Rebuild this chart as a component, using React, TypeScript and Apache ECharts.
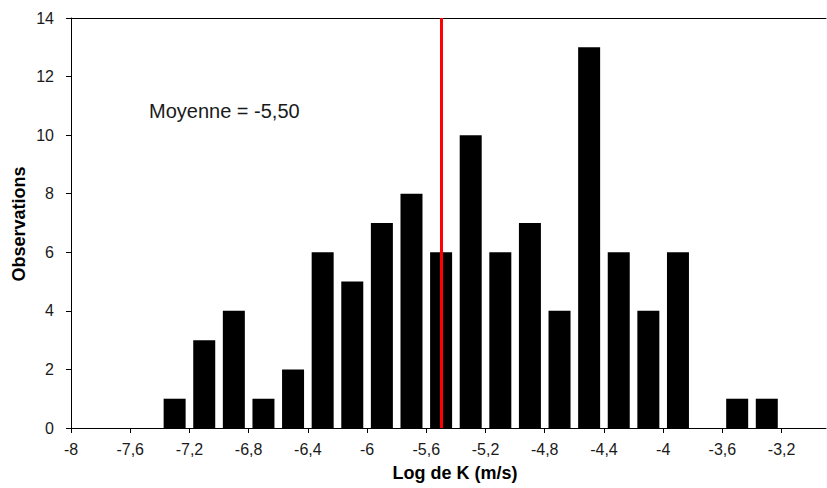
import React, { useEffect, useRef } from "react";
import * as echarts from "echarts";

// Bin centres (Log K, m/s) and observation counts
const binCenters: number[] = [-7.3, -7.1, -6.9, -6.7, -6.5, -6.3, -6.1, -5.9, -5.7, -5.5, -5.3, -5.1, -4.9, -4.7, -4.5, -4.3, -4.1, -3.9, -3.7, -3.5, -3.3];
const counts: number[] = [1, 3, 4, 1, 2, 6, 5, 7, 8, 6, 10, 6, 7, 4, 13, 6, 4, 6, 0, 1, 1];
const meanValue = -5.5;
const meanLabel = "Moyenne = -5,50";
const xTitle = "Log de K (m/s)";
const yTitle = "Observations";

const fmt = (v: number) => String(Math.round(v * 10) / 10).replace(".", ",");

export default function App() {
  const ref = useRef<HTMLDivElement>(null);
  useEffect(() => {
    if (!ref.current) return;
    const chart = echarts.init(ref.current, undefined, { renderer: "svg" });
    const font = "'Liberation Sans', Arial, sans-serif";
    chart.setOption({
      animation: false,
      grid: { left: 71, right: 1, top: 18, bottom: 60 },
      xAxis: [
        {
          type: "value",
          min: -8,
          max: -2.9,
          interval: 0.4,
          axisLine: { show: true, onZero: false, lineStyle: { color: "#000", width: 1 } },
          axisTick: { show: true, inside: false, length: 5, lineStyle: { color: "#000" } },
          splitLine: { show: false },
          axisLabel: {
            color: "#1a1a1a",
            fontFamily: font,
            fontSize: 16,
            margin: 13,
            showMaxLabel: false,
            formatter: (v: number) => fmt(v),
          },
        },
        {
          type: "value",
          position: "top",
          min: -8,
          max: -2.9,
          axisLine: { show: true, onZero: false, lineStyle: { color: "#000", width: 1 } },
          axisTick: { show: false },
          axisLabel: { show: false },
          splitLine: { show: false },
        },
      ],
      yAxis: {
        type: "value",
        min: 0,
        max: 14,
        interval: 2,
        axisLine: { show: true, lineStyle: { color: "#000", width: 1 } },
        axisTick: { show: true, inside: false, length: 5, lineStyle: { color: "#000" } },
        splitLine: { show: false },
        axisLabel: { color: "#1a1a1a", fontFamily: font, fontSize: 16, margin: 17 },
      },
      series: [
        {
          type: "bar",
          xAxisIndex: 0,
          barWidth: 22,
          itemStyle: { color: "#000" },
          data: binCenters.map((c, i) => [c, counts[i]]),
          markLine: {
            silent: true,
            symbol: ["none", "none"],
            label: { show: false },
            lineStyle: { color: "#ff0000", width: 3, type: "solid" },
            data: [{ xAxis: meanValue }],
          },
        },
      ],
      graphic: [
        {
          type: "text",
          left: 149,
          top: 101,
          style: { text: meanLabel, fontFamily: font, fontSize: 20, fill: "#1a1a1a" },
        },
        {
          type: "text",
          x: 455,
          y: 473,
          style: {
            text: xTitle,
            fontFamily: font,
            fontSize: 18,
            fontWeight: "bold",
            fill: "#000",
            align: "center",
            verticalAlign: "middle",
          },
        },
        {
          type: "text",
          x: 19,
          y: 224,
          rotation: Math.PI / 2,
          style: {
            text: yTitle,
            fontFamily: font,
            fontSize: 18,
            fontWeight: "bold",
            fill: "#000",
            align: "center",
            verticalAlign: "middle",
          },
        },
      ],
    });
    return () => chart.dispose();
  }, []);
  return (
    <div
      ref={ref}
      style={{ position: "fixed", left: 0, top: 0, width: 827, height: 488, background: "#fff" }}
    />
  );
}
